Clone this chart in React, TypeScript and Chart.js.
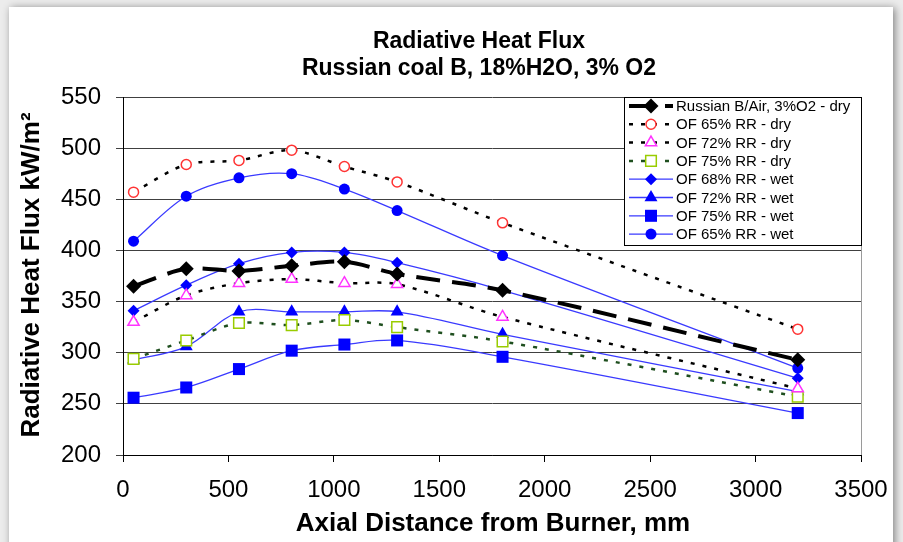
import React, { useEffect, useRef } from 'react';
import { Chart, registerables } from 'chart.js';

Chart.register(...registerables);

// ---------- data ----------
const axialDistance = [50, 300, 550, 800, 1050, 1300, 1800, 3200];
const russianAirDry = [365, 382, 380, 385, 389, 377, 361, 293];
const of65Dry = [457, 484, 488, 498, 482, 467, 427, 323];
const of72Dry = [330, 356, 368, 372, 368, 367, 335, 265];
const of75Dry = [294, 312, 329, 327, 332, 325, 311, 257];
const of68Wet = [341, 366, 387, 398, 398, 388, 361, 275];
const of72Wet = [293, 306, 340, 340, 340, 340, 318, 262];
const of75Wet = [256, 266, 284, 302, 308, 312, 296, 241];
const of65Wet = [409, 453, 471, 475, 460, 439, 395, 285];

const seriesLabels = [
  'Russian B/Air, 3%O2 - dry',
  'OF 65% RR - dry',
  'OF 72% RR - dry',
  'OF 75% RR - dry',
  'OF 68% RR - wet',
  'OF 72% RR - wet',
  'OF 75% RR - wet',
  'OF 65% RR - wet',
];

const titleLines = ['Radiative Heat Flux', 'Russian coal B, 18%H2O, 3% O2'];
const xAxisTitle = 'Axial Distance from Burner, mm';
const yAxisTitle = 'Radiative Heat Flux kW/m\u00B2';

const xMin = 0, xMax = 3500, xStep = 500;
const yMin = 200, yMax = 550, yStep = 50;

const FONT = '"Liberation Sans", Arial, Helvetica, sans-serif';

function drawMarker(
  ctx: CanvasRenderingContext2D,
  style: string,
  x: number,
  y: number,
  r: number,
  fill: string,
  stroke: string,
  lw: number
) {
  ctx.save();
  ctx.beginPath();
  if (style === 'circle') {
    ctx.arc(x, y, r, 0, Math.PI * 2);
  } else if (style === 'triangle') {
    ctx.moveTo(x, y - r);
    ctx.lineTo(x + 0.866 * r, y + 0.5 * r);
    ctx.lineTo(x - 0.866 * r, y + 0.5 * r);
    ctx.closePath();
  } else if (style === 'rect') {
    const s = Math.SQRT1_2 * r;
    ctx.rect(x - s, y - s, 2 * s, 2 * s);
  } else if (style === 'rectRot') {
    ctx.moveTo(x - r, y);
    ctx.lineTo(x, y - r);
    ctx.lineTo(x + r, y);
    ctx.lineTo(x, y + r);
    ctx.closePath();
  }
  ctx.fillStyle = fill;
  ctx.fill();
  if (lw > 0) {
    ctx.lineWidth = lw;
    ctx.strokeStyle = stroke;
    ctx.stroke();
  }
  ctx.restore();
}

const decorPlugin = {
  id: 'decor',
  beforeDraw(chart: any) {
    const ctx = chart.ctx as CanvasRenderingContext2D;
    const w = chart.width, h = chart.height;
    ctx.save();
    ctx.fillStyle = '#ececec';
    ctx.fillRect(0, 0, w, h);
    ctx.shadowColor = 'rgba(0,0,0,0.45)';
    ctx.shadowBlur = 8;
    ctx.shadowOffsetX = 2;
    ctx.shadowOffsetY = 1;
    ctx.fillStyle = '#ffffff';
    ctx.fillRect(9, 7, 884, h + 40);
    ctx.restore();
  },
  beforeDatasetsDraw(chart: any) {
    const ctx = chart.ctx as CanvasRenderingContext2D;
    const a = chart.chartArea;
    ctx.save();
    ctx.strokeStyle = '#9a9a9a';
    ctx.lineWidth = 1;
    ctx.beginPath();
    ctx.moveTo(Math.round(a.right) + 0.5, a.top);
    ctx.lineTo(Math.round(a.right) + 0.5, a.bottom);
    ctx.stroke();
    ctx.restore();
  },
  afterDraw(chart: any) {
    const ctx = chart.ctx as CanvasRenderingContext2D;
    const a = chart.chartArea;
    ctx.save();
    // titles
    ctx.fillStyle = '#000';
    ctx.textAlign = 'center';
    ctx.textBaseline = 'middle';
    ctx.font = `bold 23px ${FONT}`;
    ctx.fillText(titleLines[0], 479, 42);
    ctx.fillText(titleLines[1], 479, 69);
    // axis titles
    ctx.font = `bold 26px ${FONT}`;
    ctx.fillText(xAxisTitle, 493, 524);
    ctx.save();
    ctx.translate(32, 275);
    ctx.rotate(-Math.PI / 2);
    ctx.fillText(yAxisTitle, 0, 0);
    ctx.restore();

    // legend
    const bx = 624, by = a.top, bw = Math.round(a.right) - bx, bh = 148;
    ctx.fillStyle = '#fff';
    ctx.fillRect(bx, by, bw, bh);
    ctx.strokeStyle = '#000';
    ctx.lineWidth = 1;
    ctx.strokeRect(bx + 0.5, by + 0.5, bw, bh);
    ctx.font = `15px ${FONT}`;
    ctx.textAlign = 'left';
    ctx.textBaseline = 'middle';
    chart.data.datasets.forEach((ds: any, i: number) => {
      const y = by + 9 + i * 18.3;
      ctx.save();
      ctx.strokeStyle = ds.borderColor;
      ctx.lineWidth = ds.borderWidth;
      ctx.setLineDash(ds.borderDash || []);
      ctx.beginPath();
      ctx.moveTo(629, y);
      ctx.lineTo(673, y);
      ctx.stroke();
      ctx.restore();
      drawMarker(
        ctx,
        ds.pointStyle,
        651,
        y,
        ds.pointRadius,
        ds.pointBackgroundColor,
        ds.pointBorderColor,
        ds.pointBorderWidth
      );
      ctx.fillStyle = '#000';
      ctx.fillText(ds.label, 676, y + 1);
    });
    ctx.restore();
  },
};

function toPoints(values: number[]) {
  return axialDistance.map((x, i) => ({ x, y: values[i] }));
}

export default function App() {
  const canvasRef = useRef<HTMLCanvasElement | null>(null);

  useEffect(() => {
    const canvas = canvasRef.current;
    if (!canvas) return;
    const blueLine = '#3a3aff';
    const blue = '#0000ff';
    const datasets: any[] = [
      {
        label: seriesLabels[0],
        data: toPoints(russianAirDry),
        borderColor: '#000',
        borderWidth: 4,
        borderDash: [24, 12],
        pointStyle: 'rectRot',
        pointRadius: 7.5,
        pointBackgroundColor: '#000',
        pointBorderColor: '#000',
        pointBorderWidth: 0,
        tension: 0.3,
      },
      {
        label: seriesLabels[1],
        data: toPoints(of65Dry),
        borderColor: '#000',
        borderWidth: 2.5,
        borderDash: [4, 8],
        pointStyle: 'circle',
        pointRadius: 5,
        pointBackgroundColor: '#fff',
        pointBorderColor: '#ff3333',
        pointBorderWidth: 1.5,
        tension: 0.3,
      },
      {
        label: seriesLabels[2],
        data: toPoints(of72Dry),
        borderColor: '#000',
        borderWidth: 2.5,
        borderDash: [4, 8],
        pointStyle: 'triangle',
        pointRadius: 6.5,
        pointBackgroundColor: '#fff',
        pointBorderColor: '#ff33ff',
        pointBorderWidth: 1.5,
        tension: 0.3,
      },
      {
        label: seriesLabels[3],
        data: toPoints(of75Dry),
        borderColor: '#1f4f1f',
        borderWidth: 2.5,
        borderDash: [4, 8],
        pointStyle: 'rect',
        pointRadius: 7.5,
        pointBackgroundColor: '#fff',
        pointBorderColor: '#99cc00',
        pointBorderWidth: 1.5,
        tension: 0.3,
      },
      {
        label: seriesLabels[4],
        data: toPoints(of68Wet),
        borderColor: blueLine,
        borderWidth: 1.3,
        borderDash: [],
        pointStyle: 'rectRot',
        pointRadius: 6,
        pointBackgroundColor: blue,
        pointBorderColor: blue,
        pointBorderWidth: 0,
        tension: 0.35,
      },
      {
        label: seriesLabels[5],
        data: toPoints(of72Wet),
        borderColor: blueLine,
        borderWidth: 1.3,
        borderDash: [],
        pointStyle: 'triangle',
        pointRadius: 7.5,
        pointBackgroundColor: blue,
        pointBorderColor: blue,
        pointBorderWidth: 0,
        tension: 0.35,
      },
      {
        label: seriesLabels[6],
        data: toPoints(of75Wet),
        borderColor: blueLine,
        borderWidth: 1.3,
        borderDash: [],
        pointStyle: 'rect',
        pointRadius: 8.5,
        pointBackgroundColor: blue,
        pointBorderColor: blue,
        pointBorderWidth: 0,
        tension: 0.35,
      },
      {
        label: seriesLabels[7],
        data: toPoints(of65Wet),
        borderColor: blueLine,
        borderWidth: 1.3,
        borderDash: [],
        pointStyle: 'circle',
        pointRadius: 5.5,
        pointBackgroundColor: blue,
        pointBorderColor: blue,
        pointBorderWidth: 0,
        tension: 0.35,
      },
    ];
    datasets.forEach((d) => {
      d.fill = false;
      d.pointHoverRadius = d.pointRadius;
    });

    const chart = new Chart(canvas, {
      type: 'line',
      data: { datasets },
      plugins: [decorPlugin],
      options: {
        animation: false,
        responsive: false,
        devicePixelRatio: 1,
        events: [],
        layout: { padding: { top: 97, right: 42, left: 0, bottom: 0 } },
        plugins: {
          legend: { display: false },
          title: { display: false },
          tooltip: { enabled: false },
        },
        scales: {
          x: {
            type: 'linear',
            min: xMin,
            max: xMax,
            ticks: {
              stepSize: xStep,
              font: { family: FONT, size: 24 },
              color: '#000',
              padding: 14,
              maxRotation: 0,
              autoSkip: false,
              callback: (v: any) => String(v),
            },
            grid: { drawOnChartArea: false, tickLength: 7, color: '#000' },
            border: { color: '#000', width: 1 },
            afterFit: (s: any) => {
              s.height = 87;
            },
          },
          y: {
            type: 'linear',
            min: yMin,
            max: yMax,
            ticks: {
              stepSize: yStep,
              font: { family: FONT, size: 24 },
              color: '#000',
              padding: 15,
              callback: (v: any) => String(v),
            },
            grid: { color: '#404040', tickLength: 7, lineWidth: 1 },
            border: { color: '#000', width: 1 },
            afterFit: (s: any) => {
              s.width = 123;
            },
          },
        },
      } as any,
    });
    return () => chart.destroy();
  }, []);

  return (
    <div style={{ position: 'absolute', left: 0, top: 0, width: 903, height: 542 }}>
      <canvas ref={canvasRef} width={903} height={542} style={{ display: 'block' }} />
    </div>
  );
}
